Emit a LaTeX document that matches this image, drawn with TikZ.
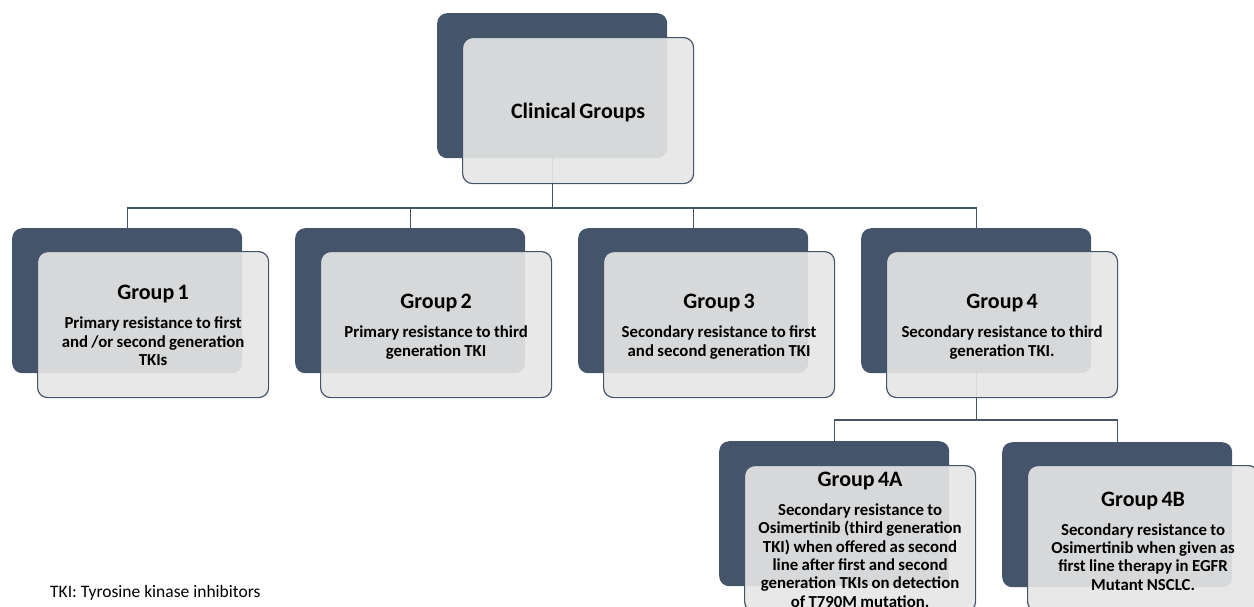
\documentclass[tikz,border=0pt]{standalone}
\usepackage{fontspec}
\setmainfont{Carlito}
\definecolor{dk}{HTML}{44546A}
\definecolor{lt}{HTML}{E6E6E6}
\newcommand{\ttl}[1]{{\fontsize{22}{26}\selectfont #1\par}}
\newcommand{\dsc}[1]{\vspace{10.6pt}{\fontsize{16.8}{18.4}\selectfont #1\par}}
\begin{document}
\begin{tikzpicture}[x=1pt,y=-1pt,
  back/.style={fill=dk, draw=none, rounded corners=10pt, minimum width=230pt, minimum height=145pt, inner sep=0pt, anchor=north west},
  front/.style={fill=lt, fill opacity=0.91, draw=dk, line width=1.2pt, rounded corners=10pt, minimum width=231pt, minimum height=146pt, inner sep=0pt, anchor=north west},
  txt/.style={text width=226pt, align=center, font=\bfseries, inner sep=0pt, text=black},
  conn/.style={draw=dk, line width=1.4pt}]
\useasboundingbox (0,0) rectangle (1254,606);
\clip (0,0) rectangle (1254,606);
% back boxes
\node[back] (c0d) at (437,13) {};
\node[back] (g1d) at (12,228) {};
\node[back] (g2d) at (295,228) {};
\node[back] (g3d) at (578,228) {};
\node[back] (g4d) at (861,228) {};
\node[back] (g4ad) at (719,441) {};
\node[back] (g4bd) at (1002,442) {};
% connectors
\coordinate (h1) at (0,208);
\coordinate (h2) at (0,420);
\draw[conn] (c0d.south) -- (c0d.south |- h1) -| (g1d.north);
\draw[conn] (c0d.south |- h1) -| (g2d.north);
\draw[conn] (c0d.south |- h1) -| (g3d.north);
\draw[conn] (c0d.south |- h1) -| (g4d.north);
\draw[conn] (g4d.south) -- (g4d.south |- h2) -| (g4ad.north);
\draw[conn] (g4d.south |- h2) -| (g4bd.north);
% front boxes
\node[front] (c0l) at (462,37) {};
\node[front] (g1l) at (37,251) {};
\node[front] (g2l) at (320,251) {};
\node[front] (g3l) at (603,251) {};
\node[front] (g4l) at (886,251) {};
\node[front] (g4al) at (744,465) {};
\node[front] (g4bl) at (1027,465) {};
% texts
\node[txt] (c0t) at ([yshift=-2pt]c0l.center) {\ttl{Clinical Groups}};
\node[txt] (g1t) at ([yshift=-1pt]g1l.center) {\ttl{Group 1}\dsc{Primary resistance to first\\and /or second generation\\TKIs}};
\node[txt] (g2t) at ([yshift=-2pt]g2l.center) {\ttl{Group 2}\dsc{Primary resistance to third\\generation TKI}};
\node[txt] (g3t) at ([yshift=-2pt]g3l.center) {\ttl{Group 3}\dsc{Secondary resistance to first\\and second generation TKI}};
\node[txt] (g4t) at ([yshift=-2pt]g4l.center) {\ttl{Group 4}\dsc{Secondary resistance to third\\generation TKI.}};
\node[txt] (g4at) at ([yshift=-1pt]g4al.center) {\ttl{Group 4A}\dsc{Secondary resistance to\\Osimertinib (third generation\\TKI) when offered as second\\line after first and second\\generation TKIs on detection\\of T790M mutation.}};
\node[txt] (g4bt) at ([yshift=-2.5pt]g4bl.center) {\ttl{Group 4B}\dsc{Secondary resistance to\\Osimertinib when given as\\first line therapy in EGFR\\Mutant NSCLC.}};
\node[anchor=base west, inner sep=0pt, font=\fontsize{17.5}{20}\selectfont] (fn) at (50,597) {TKI: Tyrosine kinase inhibitors};
\end{tikzpicture}
\end{document}
